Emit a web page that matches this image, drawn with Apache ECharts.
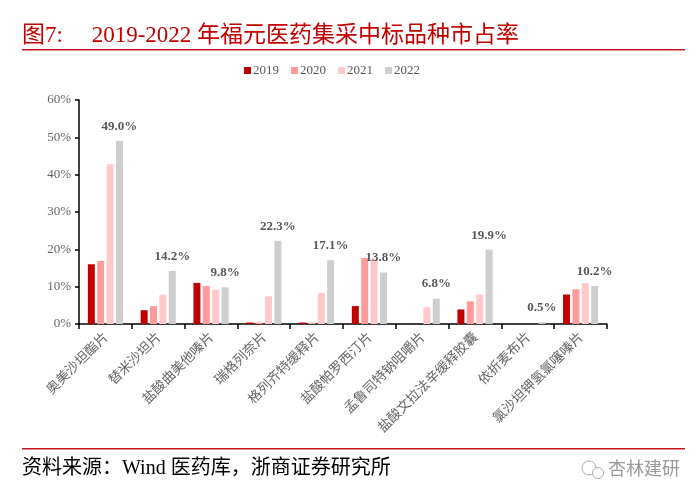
<!DOCTYPE html>
<html>
<head>
<meta charset="utf-8">
<script src="https://cdn.jsdelivr.net/npm/echarts@6/dist/echarts.min.js"></script>
<style>
html,body{margin:0;padding:0;background:#fff;}
#c{width:700px;height:504px;}
</style>
</head>
<body>
<div id="c"></div>
<script>
const categories = ['奥美沙坦酯片','替米沙坦片','盐酸曲美他嗪片','瑞格列奈片','格列齐特缓释片','盐酸帕罗西汀片','孟鲁司特钠咀嚼片','盐酸文拉法辛缓释胶囊','依折麦布片','氯沙坦钾氢氯噻嗪片'];
const seriesNames = ['2019','2020','2021','2022'];
const v2019 = [16.0, 3.7, 11.0, 0.4, 0.4, 4.8, 0, 3.9, 0, 7.9];
const v2020 = [16.9, 4.8, 10.2, 0.4, 0.3, 17.7, 0, 6.1, 0, 9.3];
const v2021 = [42.8, 7.8, 9.2, 7.4, 8.3, 17.5, 4.5, 7.9, 0, 10.9];
const v2022 = [49.0, 14.2, 9.8, 22.3, 17.1, 13.8, 6.8, 19.9, 0.5, 10.2];
const yTicks = [0, 10, 20, 30, 40, 50, 60];

const colors = ['#C00000', '#FF9B9B', '#FFC9C9', '#CFCECE'];
const serif = '"Liberation Serif","Times New Roman","Noto Sans CJK SC",serif';
const chart = echarts.init(document.getElementById('c'));
const data = [v2019, v2020, v2021, v2022];
const series = seriesNames.map((n, i) => ({
  name: n,
  type: 'bar',
  data: data[i],
  barWidth: 7,
  barGap: '34%',
  itemStyle: { color: colors[i] },
  label: i === 3 ? {
    show: true, position: 'top', distance: 8,
    formatter: p => p.value.toFixed(1) + '%',
    color: '#595959', fontFamily: serif, fontWeight: 'bold', fontSize: 13
  } : { show: false }
}));

chart.setOption({
  animation: false,
  color: colors,
  title: {
    text: '图7:     2019-2022 年福元医药集采中标品种市占率',
    left: 17, top: 19,
    textStyle: { color: '#C00000', fontSize: 23, fontWeight: 'normal', fontFamily: serif }
  },
  legend: {
    data: seriesNames,
    top: 64, left: 244,
    padding: 0,
    itemWidth: 7, itemHeight: 7, itemGap: 12,
    icon: 'rect',
    textStyle: { color: '#595959', fontSize: 13, fontFamily: serif, padding: [0, 0, 0, -3] }
  },
  grid: { left: 79, right: 93, top: 100, bottom: 180, containLabel: false },
  xAxis: {
    type: 'category',
    data: categories,
    axisLine: { lineStyle: { color: '#000', width: 1.5 } },
    axisTick: { show: true, length: 5, lineStyle: { color: '#000', width: 1.5 } },
    axisLabel: { rotate: 45, interval: 0, color: '#666', fontSize: 13.5, fontFamily: '"Noto Sans CJK SC",sans-serif', margin: 10 }
  },
  yAxis: {
    type: 'value',
    min: yTicks[0], max: yTicks[yTicks.length - 1], interval: 10,
    axisLine: { show: true, lineStyle: { color: '#000', width: 1.5 } },
    axisTick: { show: true, length: 4, inside: false, lineStyle: { color: '#000', width: 1.5 } },
    splitLine: { show: false },
    axisLabel: { formatter: v => v + '%', color: '#666', fontSize: 13, fontFamily: serif, margin: 8 }
  },
  series: series,
  graphic: [
    { type: 'rect', shape: { x: 22, y: 49, width: 663, height: 1.5 }, style: { fill: '#C8161D' } },
    { type: 'rect', shape: { x: 22, y: 448, width: 663, height: 1.5 }, style: { fill: '#C8161D' } },
    { type: 'text', left: 22, top: 459, style: { text: '资料来源：Wind 医药库，浙商证券研究所', fill: '#000', fontSize: 20, fontFamily: serif } },
    { type: 'circle', shape: { cx: 589, cy: 468, r: 7 }, style: { fill: 'none', stroke: '#aaa', lineWidth: 1 } },
    { type: 'circle', shape: { cx: 598, cy: 473, r: 5.5 }, style: { fill: '#fff', stroke: '#aaa', lineWidth: 1 } },
    { type: 'text', left: 608, top: 459, style: { text: '杏林建研', fill: '#999', fontSize: 18, fontFamily: '"Noto Sans CJK SC",sans-serif' } }
  ]
});
</script>
</body>
</html>
